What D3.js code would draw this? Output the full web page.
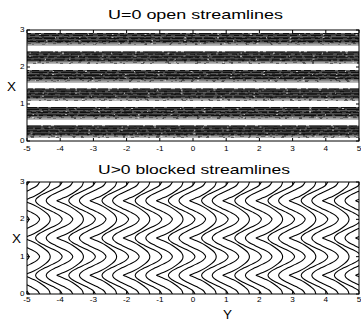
<!DOCTYPE html>
<html>
<head>
<meta charset="utf-8">
<script src="https://cdn.jsdelivr.net/npm/d3@7"></script>
<style>
body { margin: 0; background: #fff; }
text { font-family: "Liberation Sans", Arial, sans-serif; fill: #000; }
</style>
</head>
<body>
<svg id="chart" width="361" height="322"></svg>
<script>
//Ticks
var yTicks = [-5, -4, -3, -2, -1, 0, 1, 2, 3, 4, 5];
var xTicks = [0, 1, 2, 3];

//Top panel : bands of open streamlines (X centre of each band)
var bandCentres = [0.25, 0.75, 1.25, 1.75, 2.25, 2.75];
var bandHalf = 0.165;
//streak rows inside a band, top to bottom
var streakGreys = ["#111", "#3a3a3a", "#000", "#666", "#1a1a1a", "#000", "#555", "#222", "#000", "#7a7a7a", "#999", "#b8b8b8"];
var streakDashes = ["14,2,8,3,22,2", "6,3,12,2,4,4", "20,2,6,3,9,2", "5,4,10,3,7,5", "18,2,4,2,12,3", "9,3,15,2",
                    "7,2,11,4,5,3", "16,3,6,2", "12,2,3,3,19,2", "4,3,8,2,6,4", "10,4,5,2", "6,3,14,2"];

//Bottom panel : half a period (X from 0 to the tip at 0.5) of each kind of blocked streamline,
//Y shift from its left tip
var profileX = [0, 0.1, 0.2, 0.3, 0.38, 0.44, 0.48, 0.5];
var sharpShift = [0.8, 0.76, 0.64, 0.48, 0.32, 0.16, 0.05, 0];
var softShift = [0.8, 0.72, 0.52, 0.28, 0.11, 0.03, 0.005, 0];
//each unit of Y holds one sharp and two soft streamlines (tip positions)
var lineTips = [-0.1, -0.42, -0.74];
var lineKinds = ["sharp", "soft", "soft"];
var unitStarts = [-5, -4, -3, -2, -1, 0, 1, 2, 3, 4, 5, 6];

var svg = d3.select("#chart");

var x = d3.scaleLinear().domain([-5, 5]).range([27, 359]);
var yTop = d3.scaleLinear().domain([0, 3]).range([141, 30]);
var yBot = d3.scaleLinear().domain([0, 3]).range([294, 182]);

function smallText(g, px, py, anchor, txt) {
    g.append("text")
        .attr("transform", "translate(" + px + "," + py + ") scale(1.3,1)")
        .attr("text-anchor", anchor)
        .style("font-size", "6.3px").text(txt);
}

function buildAxes(yScale, labelY, title, titleX, titleLen, titleY, xLabelX) {
    var g = svg.append("g");
    var x0 = x.range()[0], x1 = x.range()[1];
    var top = yScale.range()[1], bottom = yScale.range()[0];

    //inward ticks on all sides
    yTicks.forEach(function(t) {
        g.append("line").attr("x1", x(t)).attr("x2", x(t)).attr("y1", bottom).attr("y2", bottom - 3).attr("stroke", "#000");
        g.append("line").attr("x1", x(t)).attr("x2", x(t)).attr("y1", top).attr("y2", top + 3).attr("stroke", "#000");
        smallText(g, x(t), labelY, "middle", t);
    });
    xTicks.forEach(function(t) {
        g.append("line").attr("x1", x0).attr("x2", x0 + 3).attr("y1", yScale(t)).attr("y2", yScale(t)).attr("stroke", "#000");
        g.append("line").attr("x1", x1).attr("x2", x1 - 3).attr("y1", yScale(t)).attr("y2", yScale(t)).attr("stroke", "#000");
        smallText(g, x0 - 2.5, yScale(t) + 2, "end", t);
    });

    g.append("rect").attr("x", x0).attr("y", top).attr("width", x1 - x0).attr("height", bottom - top)
        .attr("fill", "none").attr("stroke", "#000").attr("stroke-width", 1);

    g.append("text").attr("x", titleX).attr("y", titleY)
        .attr("textLength", titleLen).attr("lengthAdjust", "spacingAndGlyphs")
        .style("font-size", "13px").text(title);

    g.append("text").attr("x", xLabelX).attr("y", (top + bottom) / 2 + 5)
        .attr("textLength", 9).attr("lengthAdjust", "spacingAndGlyphs")
        .style("font-size", "12px").text("X");
}

//Clip paths
var defs = svg.append("defs");
defs.append("clipPath").attr("id", "clipTop").append("rect")
    .attr("x", 27).attr("y", 30).attr("width", 332).attr("height", 111);
defs.append("clipPath").attr("id", "clipBot").append("rect")
    .attr("x", 27).attr("y", 182).attr("width", 332).attr("height", 112);

//Top panel
var topG = svg.append("g").attr("clip-path", "url(#clipTop)");
bandCentres.forEach(function(c, bi) {
    var yA = yTop(c + bandHalf), yB = yTop(c - bandHalf);
    topG.append("rect").attr("x", x(-5)).attr("y", yA).attr("width", x(5) - x(-5)).attr("height", yB - yA)
        .attr("fill", "#4a4a4a");
    var n = streakGreys.length;
    var step = (yB - yA) / n;
    streakGreys.forEach(function(col, i) {
        var yy = yA + step * (i + 0.5);
        topG.append("line").attr("x1", x(-5)).attr("x2", x(5)).attr("y1", yy).attr("y2", yy)
            .attr("stroke", col).attr("stroke-width", step + 0.1)
            .attr("stroke-dasharray", streakDashes[(i + bi * 5) % n])
            .attr("stroke-dashoffset", bi * 17 + i * 7);
        if (i % 3 === 1) {
            topG.append("line").attr("x1", x(-5)).attr("x2", x(5)).attr("y1", yy).attr("y2", yy)
                .attr("stroke", "#fff").attr("stroke-width", 0.8)
                .attr("stroke-dasharray", "1.5,31,2,47,1,23")
                .attr("stroke-dashoffset", bi * 23 + i * 11);
        }
    });
});

//Bottom panel
var botG = svg.append("g").attr("clip-path", "url(#clipBot)");
var line = d3.line()
    .x(function(d) { return x(d[1]); })
    .y(function(d) { return yBot(d[0]); })
    .curve(d3.curveCatmullRom);

//whole streamline over X = 0..3 from a half period profile
function streamline(tip, shifts) {
    var pts = [];
    for (var p = 0; p < 3; p++) {
        profileX.forEach(function(px, j) {
            if (p > 0 && j === 0) return;
            pts.push([p + px, tip + shifts[j]]);
        });
        for (var j = profileX.length - 2; j >= 0; j--) {
            pts.push([p + 1 - profileX[j], tip + shifts[j]]);
        }
    }
    return pts;
}

unitStarts.forEach(function(u) {
    lineTips.forEach(function(tip, i) {
        var shifts = lineKinds[i] === "sharp" ? sharpShift : softShift;
        botG.append("path").attr("d", line(streamline(u + tip, shifts)))
            .attr("fill", "none").attr("stroke", "#000").attr("stroke-width", 1.1);
    });
});

buildAxes(yTop, 150.7, "U=0  open streamlines", 108, 175, 19, 7);
buildAxes(yBot, 301.5, "U>0  blocked streamlines", 98, 192, 174, 12);

svg.append("text").attr("x", 223).attr("y", 319).attr("textLength", 9).attr("lengthAdjust", "spacingAndGlyphs")
    .style("font-size", "12px").text("Y");
</script>
</body>
</html>
